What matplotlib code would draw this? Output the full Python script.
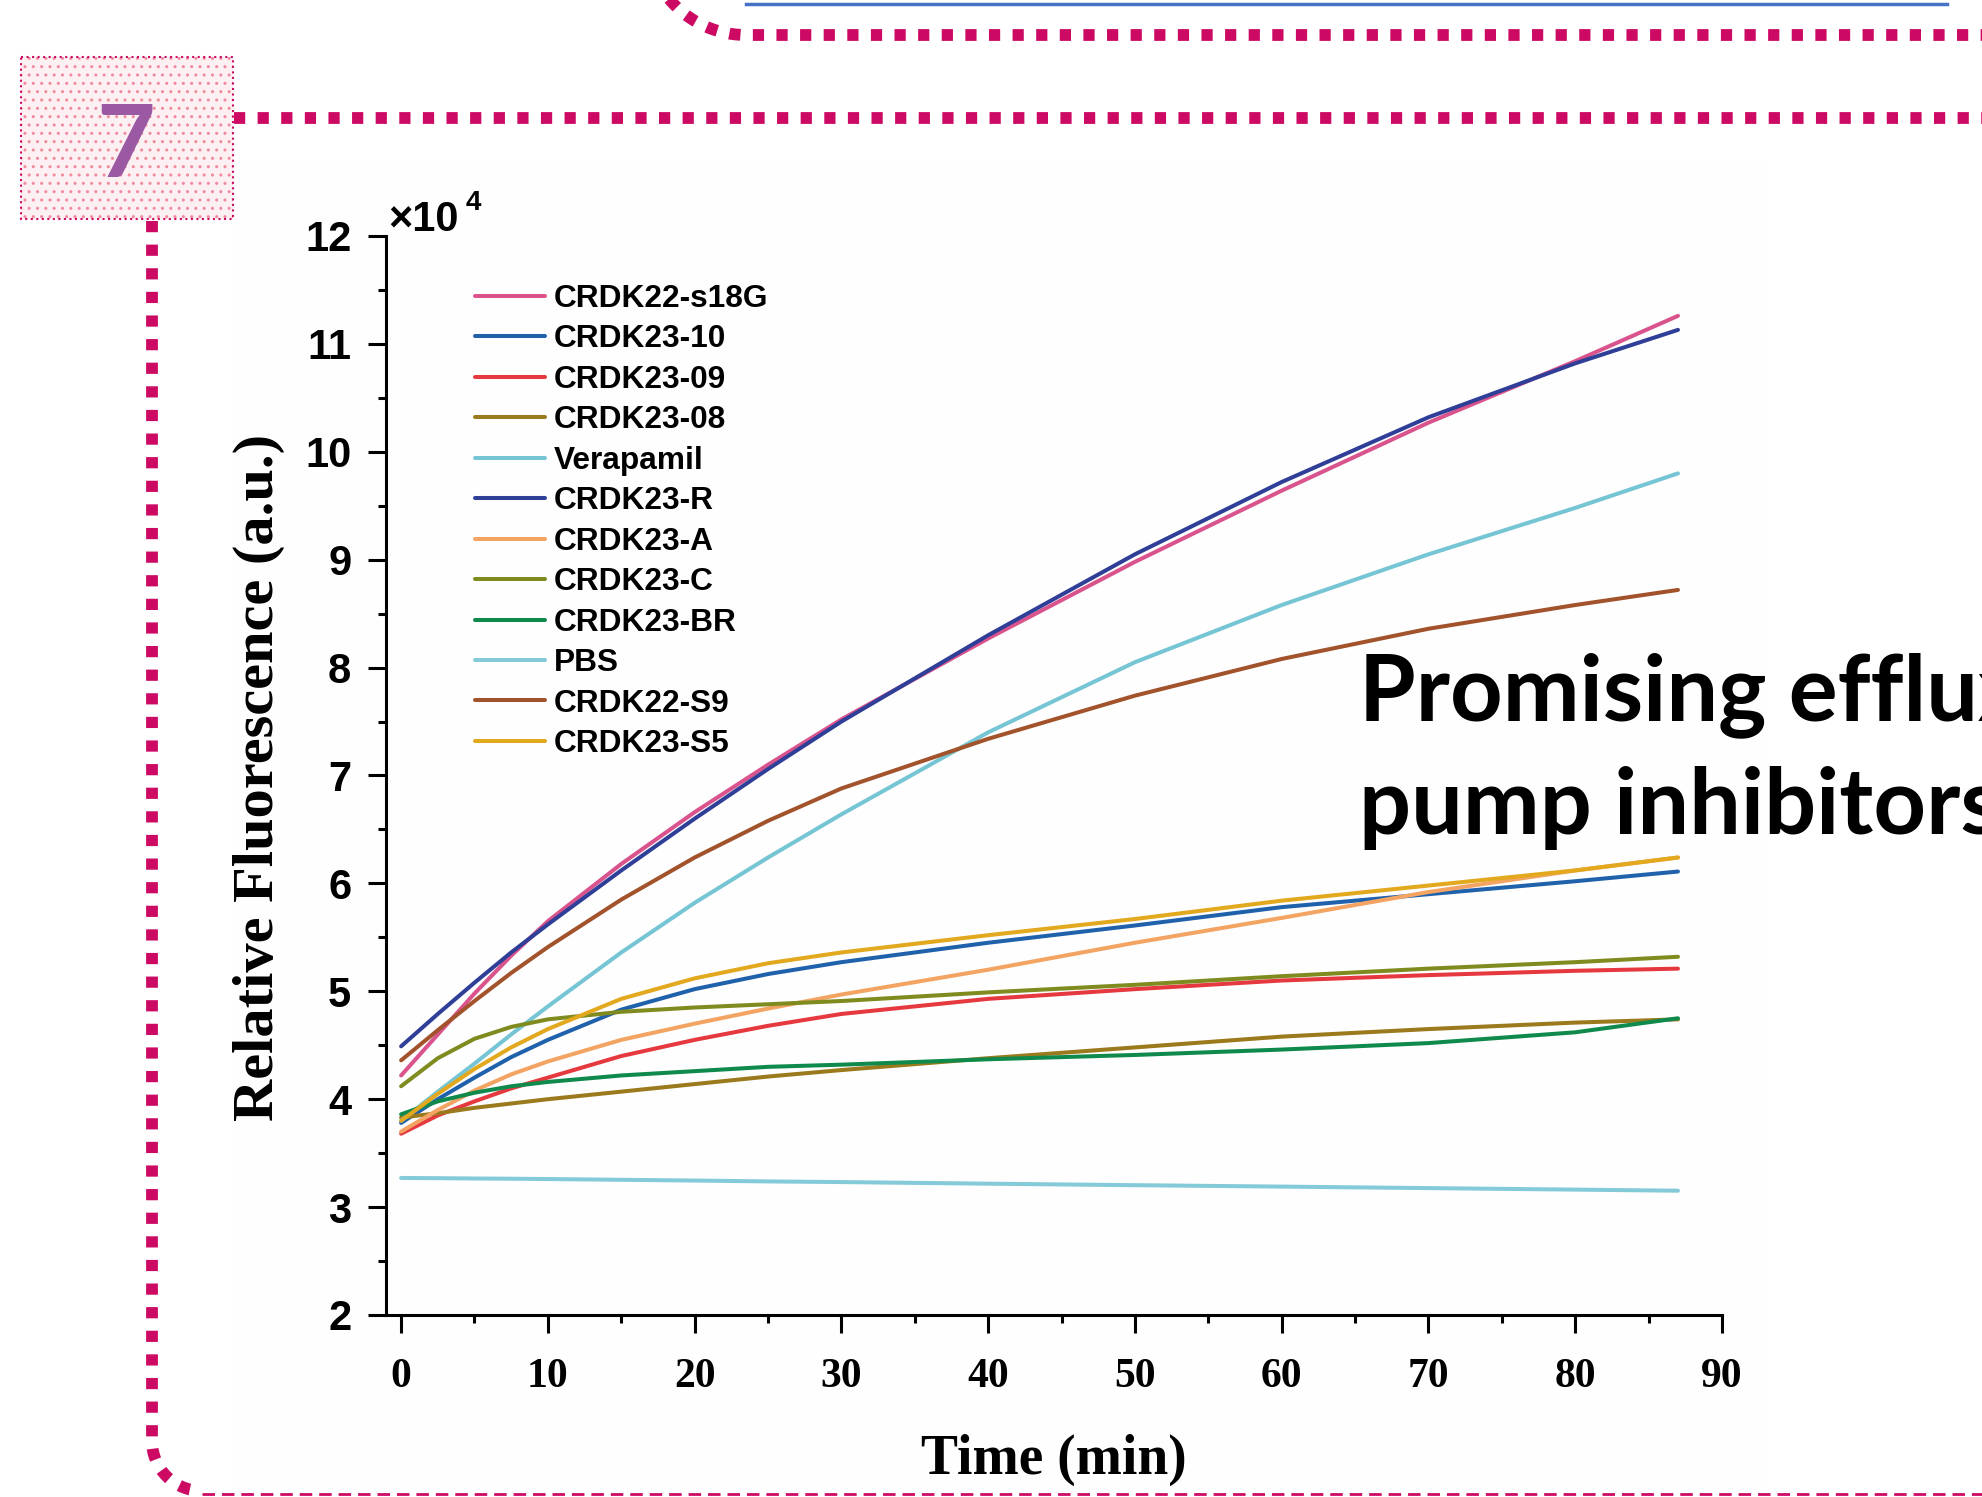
import numpy as np
import matplotlib
matplotlib.use("Agg")
import matplotlib.pyplot as plt
from matplotlib.patches import Rectangle
from matplotlib.ticker import MultipleLocator

W, H = 1982, 1497
DPI = 100

# ---------- data (fluorescence in units of 1e4) ----------
time_min = [0, 2.5, 5, 7.5, 10, 15, 20, 25, 30, 40, 50, 60, 70, 80, 87]

labels = ["CRDK22-s18G", "CRDK23-10", "CRDK23-09", "CRDK23-08", "Verapamil",
          "CRDK23-R", "CRDK23-A", "CRDK23-C", "CRDK23-BR", "PBS",
          "CRDK22-S9", "CRDK23-S5"]
colors = ["#d9538d", "#1f62ab", "#e6393f", "#9a7a1c", "#76c5d4",
          "#2f3e97", "#f3a463", "#7f8b1f", "#0f8a4c", "#84cad8",
          "#a2532c", "#e2a81e"]

s18g = [4.22, 4.60, 4.98, 5.33, 5.65, 6.18, 6.66, 7.10, 7.52, 8.27, 8.98, 9.64, 10.27, 10.84, 11.26]
c23_10 = [3.78, 4.00, 4.20, 4.39, 4.55, 4.83, 5.02, 5.16, 5.27, 5.45, 5.61, 5.78, 5.90, 6.02, 6.11]
c23_09 = [3.68, 3.85, 3.98, 4.10, 4.20, 4.40, 4.55, 4.68, 4.79, 4.93, 5.02, 5.10, 5.15, 5.19, 5.21]
c23_08 = [3.83, 3.87, 3.92, 3.96, 4.00, 4.07, 4.14, 4.21, 4.27, 4.38, 4.48, 4.58, 4.65, 4.71, 4.74]
verapamil = [3.80, 4.07, 4.33, 4.60, 4.86, 5.36, 5.82, 6.24, 6.64, 7.40, 8.05, 8.58, 9.05, 9.48, 9.80]
c23_r = [4.49, 4.79, 5.08, 5.36, 5.62, 6.12, 6.60, 7.06, 7.50, 8.30, 9.05, 9.72, 10.32, 10.82, 11.13]
c23_a = [3.70, 3.90, 4.08, 4.23, 4.35, 4.55, 4.70, 4.84, 4.97, 5.20, 5.45, 5.68, 5.92, 6.12, 6.24]
c23_c = [4.12, 4.38, 4.56, 4.67, 4.74, 4.81, 4.85, 4.88, 4.91, 4.99, 5.06, 5.14, 5.21, 5.27, 5.32]
c23_br = [3.86, 3.98, 4.06, 4.12, 4.16, 4.22, 4.26, 4.30, 4.32, 4.37, 4.41, 4.46, 4.52, 4.62, 4.75]
pbs = [3.270, 3.268, 3.265, 3.263, 3.260, 3.253, 3.246, 3.238, 3.232, 3.217, 3.203, 3.190, 3.176, 3.162, 3.152]
c22_s9 = [4.36, 4.64, 4.91, 5.17, 5.41, 5.85, 6.24, 6.58, 6.88, 7.34, 7.74, 8.08, 8.36, 8.58, 8.72]
c23_s5 = [3.80, 4.05, 4.28, 4.48, 4.65, 4.93, 5.12, 5.26, 5.36, 5.52, 5.67, 5.84, 5.98, 6.12, 6.24]

series = [s18g, c23_10, c23_09, c23_08, verapamil, c23_r,
          c23_a, c23_c, c23_br, pbs, c22_s9, c23_s5]

xticks = list(range(0, 100, 10))
yticks = list(range(2, 13))

fig = plt.figure(figsize=(W / DPI, H / DPI), dpi=DPI)

# ---------- poster decorations (pixel coordinates) ----------
deco = fig.add_axes([0, 0, 1, 1], zorder=0)
deco.set_xlim(0, W)
deco.set_ylim(H, 0)
deco.axis("off")

MAG = "#cc0a64"
dotted = dict(color=MAG, lw=8.5, linestyle=(0, (0.95, 1.05)),
              dash_capstyle="butt", solid_capstyle="butt")

# faint background of the pasted chart image
deco.add_patch(Rectangle((234, 160), 1529, 1330, facecolor="#fefefe", lw=0))

# top rounded corner + dotted line
t = np.linspace(np.pi, np.pi / 2, 30)
xs = list(746 + 100 * np.cos(t)) + [W + 10]
ys = list(-65 + 100 * np.sin(t)) + [35]
deco.plot(xs, ys, **dotted)
deco.plot([746, 1947], [4, 4], color="#4472c4", lw=2.5)

# middle dotted line
deco.plot([234, W + 10], [118, 118], **dotted)

# left vertical dotted line with rounded bottom corner
t = np.linspace(np.pi, np.pi / 2, 20)
xs = [152] + list(202 + 50 * np.cos(t))
ys = [221] + list(1441 + 50 * np.sin(t))
deco.plot(xs, ys, **dotted)
deco.plot([202, W + 10], [1494, 1494], color=MAG, lw=2,
          linestyle=(0, (4.5, 2.5)), dash_capstyle="butt")

# numbered box
deco.add_patch(Rectangle((21, 57), 212, 162, facecolor="#fdf0f2",
                         edgecolor="#f08a9c", hatch="..", lw=0))
deco.add_patch(Rectangle((21, 57), 212, 162, fill=False,
                         edgecolor=MAG, lw=1.5, linestyle=":"))
deco.text(126, 177, "7", fontsize=73, fontweight="bold", family="Lato",
          color="#9b58a3", ha="center", va="baseline")

# ---------- chart ----------
ax = fig.add_axes([386 / W, 1 - 1315 / H, (1722 - 386) / W, (1315 - 236) / H],
                  zorder=2)
ax.patch.set_alpha(0)

for vals, lab, col in zip(series, labels, colors):
    ax.plot(time_min, vals, color=col, lw=2.9, label=lab,
            solid_joinstyle="round", solid_capstyle="round")

ax.set_xlim(-1.03, 90)
ax.set_ylim(2, 12)
for side in ["top", "right"]:
    ax.spines[side].set_visible(False)
for side in ["left", "bottom"]:
    ax.spines[side].set_linewidth(2.2)

ax.set_xticks(xticks)
ax.set_xticklabels([str(v) for v in xticks], family="Liberation Serif",
                   fontweight="bold", fontsize=30)
ax.set_yticks(yticks)
ax.set_yticklabels([str(v) for v in yticks], family="Liberation Sans",
                   fontweight="bold", fontsize=30)
ax.xaxis.set_minor_locator(MultipleLocator(5))
ax.yaxis.set_minor_locator(MultipleLocator(0.5))
ax.tick_params(which="major", length=13, width=2.2, direction="out")
ax.tick_params(which="minor", length=6, width=2.2, direction="out")
ax.tick_params(axis="x", pad=18)
ax.tick_params(axis="y", pad=12)

ax.legend(loc="upper left", bbox_to_anchor=(475 / W, 1 - 284 / H),
          bbox_transform=fig.transFigure, frameon=False,
          prop=dict(family="Liberation Sans", weight="bold", size=22.8),
          handlelength=2.2, handletextpad=0.3, labelspacing=0.33,
          borderpad=0, borderaxespad=0)

fig.text(388 / W, 1 - 231 / H, "×10", family="Liberation Sans",
         fontweight="bold", fontsize=30, va="baseline")
fig.text(466 / W, 1 - 190 / H, "4", family="Liberation Sans",
         fontweight="bold", fontsize=20, va="top")

fig.text(259 / W, 1 - 777 / H, "Relative Fluorescence (a.u.)",
         rotation=90, family="Liberation Serif", fontweight="bold",
         fontsize=42, ha="center", va="center")
fig.text(1054 / W, 1 - 1460 / H, "Time (min)", family="Liberation Serif",
         fontweight="bold", fontsize=40, ha="center", va="center")

fig.text(1359 / W, 1 - 720 / H, "Promising efflux", family="Lato",
         fontweight="bold", fontsize=66, va="baseline")
fig.text(1359 / W, 1 - 834 / H, "pump inhibitors", family="Lato",
         fontweight="bold", fontsize=66, va="baseline")

fig.savefig("out.png", dpi=DPI)
